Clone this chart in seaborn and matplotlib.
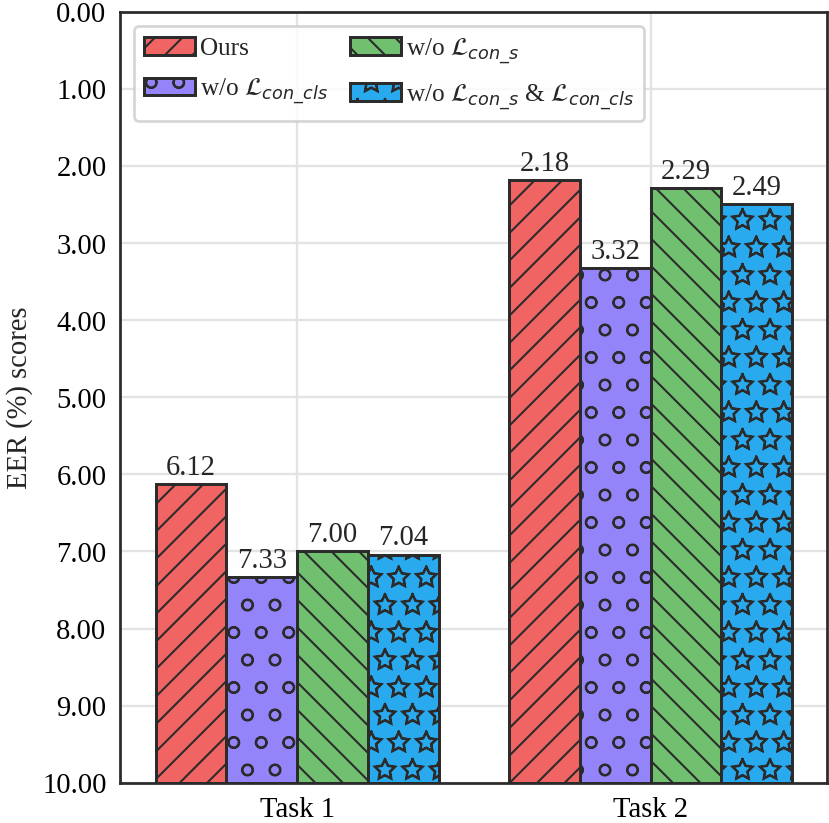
import numpy as np
import pandas as pd
import matplotlib
matplotlib.use('Agg')
import matplotlib.pyplot as plt
import matplotlib.hatch as mhatch
import seaborn as sns

# Chart data
tasks = ['Task 1', 'Task 2']
methods = ['Ours',
           r'w/o $\mathcal{L}_{con\_cls}$',
           r'w/o $\mathcal{L}_{con\_s}$',
           r'w/o $\mathcal{L}_{con\_s}$ & $\mathcal{L}_{con\_cls}$']
ours = [6.12, 2.18]
wo_cls = [7.33, 3.32]
wo_s = [7.00, 2.29]
wo_both = [7.04, 2.49]

colors = ['#F06464', '#9384FA', '#70C070', '#2AAAEE']
hatches = ['//', 'o', '\\\\', '*']

base = 10.0

# outlined, slightly bigger stars instead of filled ones
mhatch.Stars.filled = False
mhatch.Stars.size = 0.4

# Build long table
rows = []
for m, vals in zip(methods, [ours, wo_cls, wo_s, wo_both]):
    for t, v in zip(tasks, vals):
        rows.append({'Task': t, 'Method': m, 'EER': v})
df = pd.DataFrame(rows)
df['h'] = df['EER'] - base

sns.set_theme(style='whitegrid')
plt.rcParams['font.family'] = ['Liberation Serif', 'DejaVu Serif']
plt.rcParams['mathtext.fontset'] = 'dejavusans'
plt.rcParams['hatch.linewidth'] = 0.9
plt.rcParams['hatch.color'] = '#2b2b2b'

fig, ax = plt.subplots(figsize=(5.03, 4.99), dpi=165)

sns.barplot(data=df, x='Task', y='h', hue='Method', order=tasks, hue_order=methods,
            palette=colors, bottom=base, edgecolor='#2b2b2b', linewidth=1.3,
            saturation=1, legend=False, ax=ax, zorder=2)

# hatches and value labels
for cont, hatch, m in zip(ax.containers, hatches, methods):
    vals = df[df['Method'] == m].set_index('Task').loc[tasks, 'EER']
    for bar, v in zip(cont, vals):
        bar.set_hatch(hatch)
        ax.annotate(f'{v:.2f}', (bar.get_x() + bar.get_width() / 2, v),
                    xytext=(0, 1.5), textcoords='offset points',
                    ha='center', va='bottom', fontsize=12.5)

ax.set_ylim(0, 10)
ax.invert_yaxis()
ax.set_yticks(np.arange(0, 11, 1))
ax.set_yticklabels([f'{v:.2f}' for v in np.arange(0, 11, 1)])
ax.set_xlabel('')
ax.set_ylabel('EER (%) scores', fontsize=12.5)
ax.tick_params(labelsize=12.5, colors='black', length=0, pad=6)
ax.grid(True, color='#e3e3e3', linewidth=1.0, zorder=0)
ax.set_axisbelow(True)
for sp in ax.spines.values():
    sp.set_color('#2b2b2b')
    sp.set_linewidth(1.2)

handles = [cont.patches[0] for cont in ax.containers]
leg = ax.legend(handles, methods, loc='upper left', ncol=2, fontsize=11, frameon=True,
                fancybox=True, borderaxespad=0.55, columnspacing=0.9, handletextpad=0.2,
                labelspacing=0.65)
leg.get_frame().set_edgecolor('#cccccc')
leg.get_frame().set_linewidth(1.2)

fig.subplots_adjust(left=0.145, right=0.997, top=0.985, bottom=0.049)
plt.savefig('out.png', dpi=165)
